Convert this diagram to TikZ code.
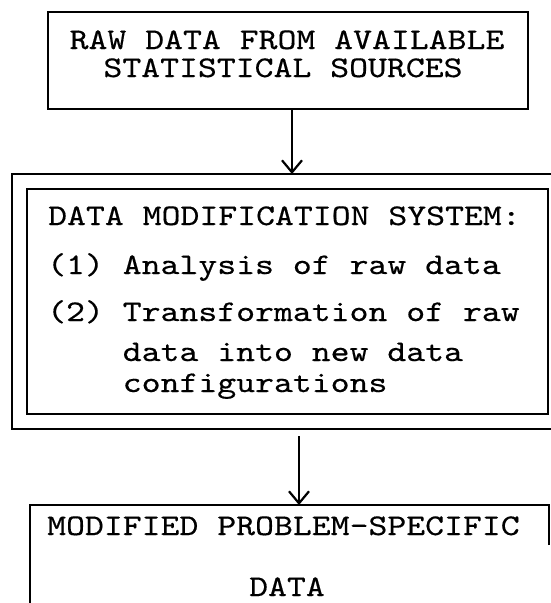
\documentclass[tikz,border=0pt]{standalone}
\usepackage{fontspec}
\usetikzlibrary{arrows.meta}
\newfontfamily\twfam{lmmono10-regular.otf}[FakeStretch=1.2,FakeBold=0.4]
\newcommand{\twfont}{\twfam\fontsize{30}{30}\selectfont}
\begin{document}
\begin{tikzpicture}[x=1pt,y=-1pt,
  box/.style={draw,line width=1.6pt},
  txt/.style={font=\twfont, inner sep=0pt, anchor=base west},
  link/.style={line width=1.8pt,-{Straight Barb[length=12pt,width=20pt,line width=2.2pt]}}]
\useasboundingbox (0,0) rectangle (550,603);
% top box
\node[box, minimum width=480pt, minimum height=97pt, inner sep=0pt] (src) at (288,60.5) {};
\node[txt, anchor=base] (s1) at (287,49) {RAW DATA FROM AVAILABLE};
\node[txt, anchor=base] (s2) at (283,77) {STATISTICAL SOURCES};
% outer frame (open at right)
\coordinate (outtop) at (292,174);
\draw[box] (551,174) -| (12,429) -- (551,429);
% inner box
\node[box, minimum width=521pt, minimum height=225pt, inner sep=0pt] (sys) at (287.5,301.5) {};
\node[txt] (h) at (48,225) {DATA MODIFICATION SYSTEM:};
\node[txt] (i1) at (47,274) {(1) Analysis of raw data};
\node[txt] (i2) at (47,321) {(2) Transformation of raw};
\node[txt] (i3) at (122.6,361) {data into new data};
\node[txt] (i4) at (122.6,392) {configurations};
% bottom box (cut off)
\coordinate (dsttop) at (299,505);
\coordinate (a2s) at (299,436);
\draw[box] (549,545) |- (30,505) -- (30,604);
\node[txt] (m1) at (47,535) {MODIFIED PROBLEM-SPECIFIC};
\node[txt, anchor=base] (m2) at (287,596) {DATA};
% connectors
\draw[link] (src.south -| outtop) -- (outtop);
\draw[link] (a2s) -- (dsttop);
\end{tikzpicture}
\end{document}
